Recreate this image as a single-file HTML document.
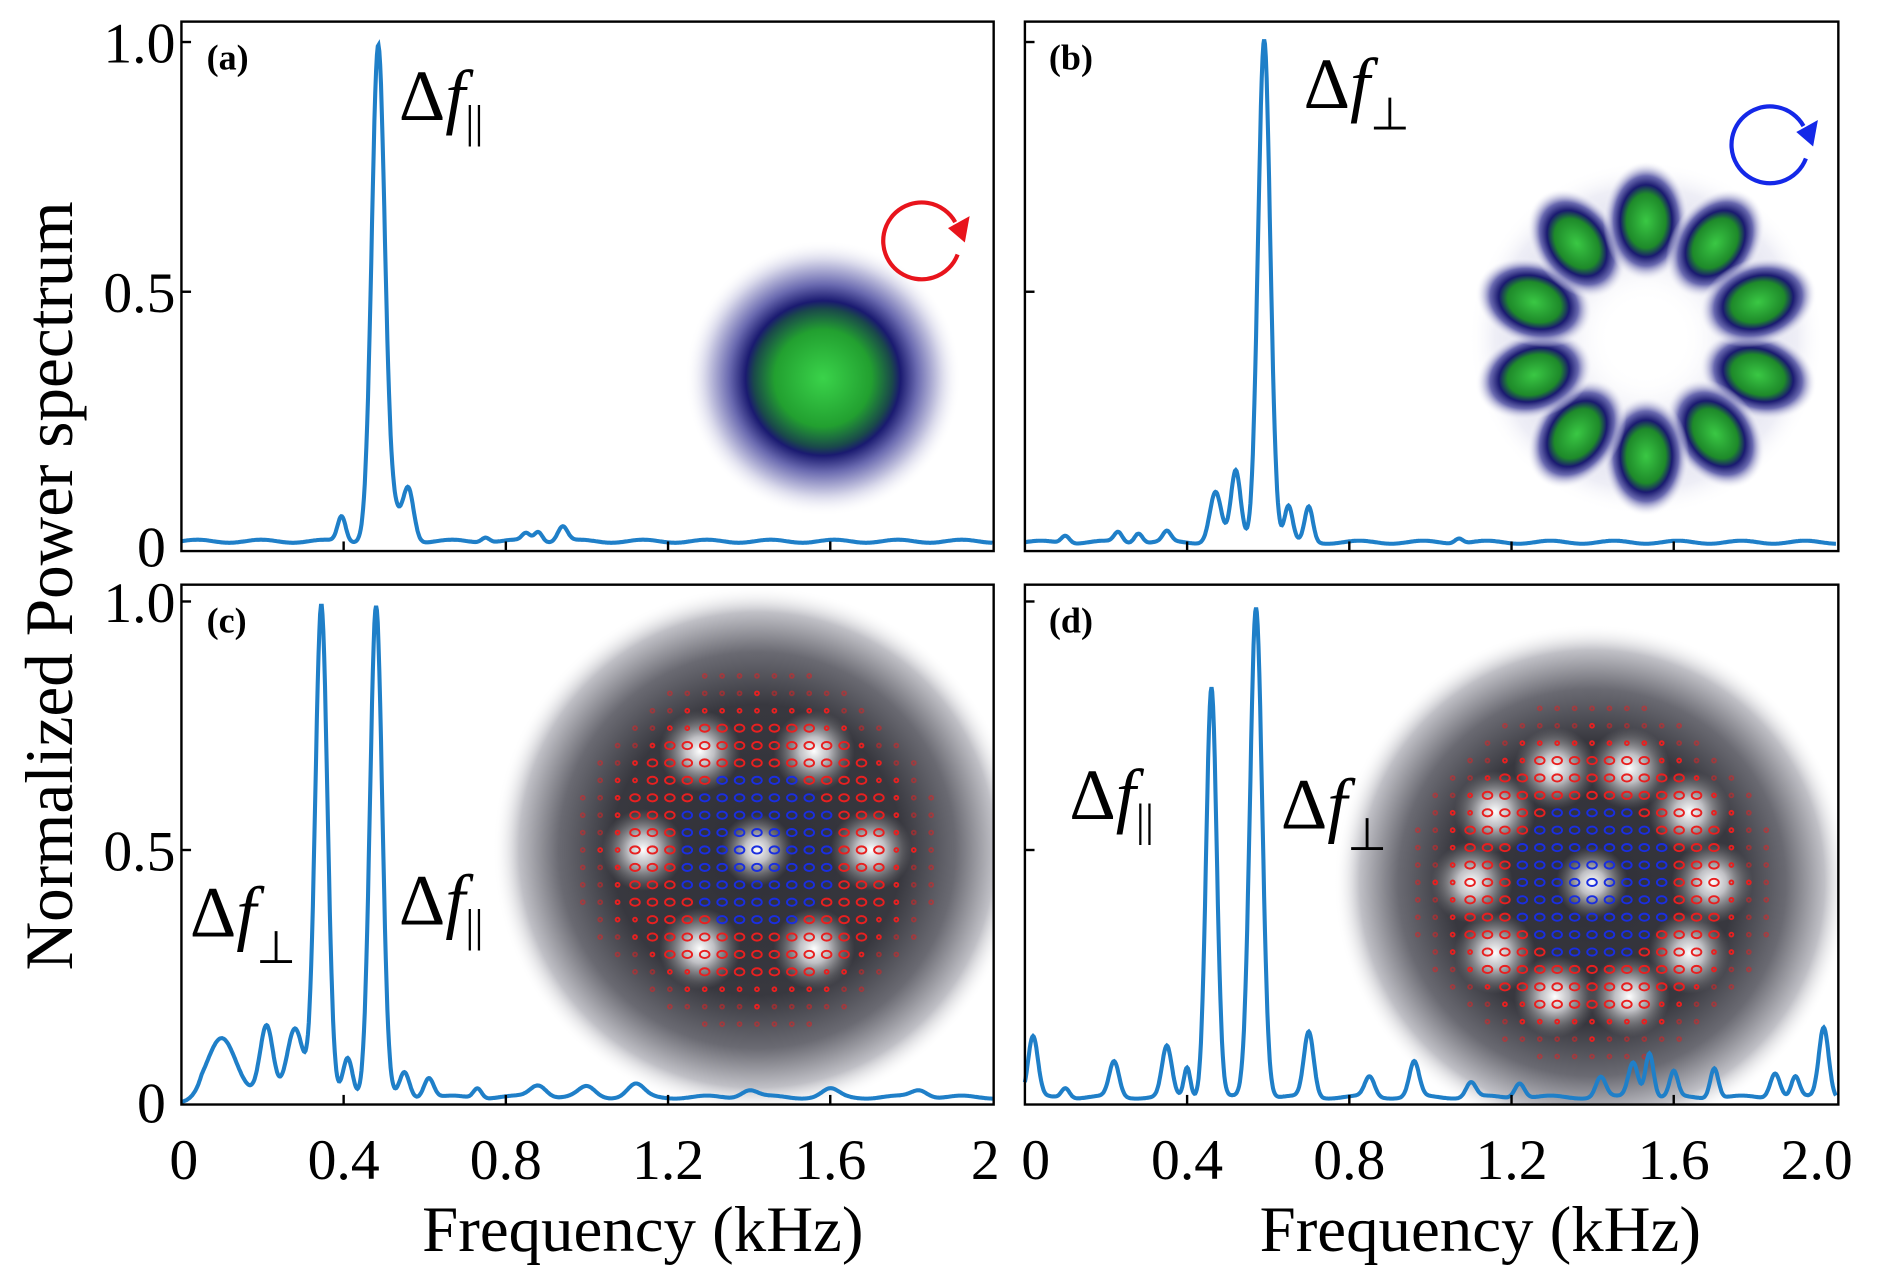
<!DOCTYPE html>
<html><head><meta charset="utf-8"><style>
html,body{margin:0;padding:0;background:#fff;}
svg{display:block;}
text{font-family:"Liberation Serif",serif;fill:#000;}
</style></head><body>
<svg id="s" width="1884" height="1281" viewBox="0 0 1568 1067" preserveAspectRatio="none" xmlns="http://www.w3.org/2000/svg">
<defs>
<radialGradient id="ga" cx="50%" cy="50%" r="50%">
<stop offset="0" stop-color="#3ad34a"/><stop offset="0.35" stop-color="#22a030"/><stop offset="0.5" stop-color="#1a4a4a"/><stop offset="0.56" stop-color="#1a1a70"/><stop offset="0.68" stop-color="#6a6ab0"/><stop offset="0.85" stop-color="#d4d4e8"/><stop offset="1" stop-color="#fff" stop-opacity="0"/>
</radialGradient>
<radialGradient id="lobe" cx="50%" cy="50%" r="50%">
<stop offset="0" stop-color="#3ac844"/><stop offset="0.45" stop-color="#1e8a2a"/><stop offset="0.6" stop-color="#1a1a70"/><stop offset="0.75" stop-color="#6a6ab0"/><stop offset="1" stop-color="#fff" stop-opacity="0"/>
</radialGradient>
<radialGradient id="halo" cx="50%" cy="50%" r="50%">
<stop offset="0.2" stop-color="#fff" stop-opacity="0"/><stop offset="0.55" stop-color="#dcdcec"/><stop offset="0.85" stop-color="#eeeef6"/><stop offset="1" stop-color="#fff" stop-opacity="0"/>
</radialGradient>
<radialGradient id="gray" cx="50%" cy="50%" r="50%">
<stop offset="0" stop-color="#303038"/><stop offset="0.55" stop-color="#38383f"/><stop offset="0.75" stop-color="#6a6a72"/><stop offset="0.9" stop-color="#c0c0c6"/><stop offset="1" stop-color="#fff" stop-opacity="0"/>
</radialGradient>
<radialGradient id="wl" cx="50%" cy="50%" r="50%">
<stop offset="0" stop-color="#fff"/><stop offset="0.35" stop-color="#d8d8dc" stop-opacity="0.85"/><stop offset="1" stop-color="#888" stop-opacity="0"/>
</radialGradient>
<clipPath id="cc"><rect x="151" y="487" width="676" height="433"/></clipPath>
<clipPath id="cd"><rect x="853" y="487" width="677" height="433"/></clipPath>
</defs>
<g id="ins"></g>
<g id="curves" fill="none" stroke="#1f7fc8" stroke-width="3.4"></g>
<g fill="none" stroke="#000" stroke-width="2">
<rect x="151" y="18" width="676" height="441"/>
<rect x="853" y="18" width="677" height="441"/>
<rect x="151" y="487" width="676" height="433"/>
<rect x="853" y="487" width="677" height="433"/>
</g>
<g id="ticks" stroke="#000" stroke-width="2"></g>
<g font-size="48" text-anchor="end">
<text x="146" y="52">1.0</text><text x="146" y="260">0.5</text><text x="138" y="472">0</text>
<text x="146" y="518">1.0</text><text x="146" y="725">0.5</text><text x="138" y="935">0</text>
</g>
<g font-size="48" text-anchor="middle">
<text x="153" y="982">0</text><text x="286" y="982">0.4</text><text x="421" y="982">0.8</text><text x="556" y="982">1.2</text><text x="691" y="982">1.6</text><text x="820" y="982">2</text>
<text x="862" y="982">0</text><text x="988" y="982">0.4</text><text x="1123" y="982">0.8</text><text x="1258" y="982">1.2</text><text x="1393" y="982">1.6</text><text x="1512" y="982">2.0</text>
</g>
<text font-size="54" x="535" y="1042" text-anchor="middle">Frequency (kHz)</text>
<text font-size="54" x="1232" y="1042" text-anchor="middle">Frequency (kHz)</text>
<text font-size="56" transform="translate(60,488) rotate(-90)" text-anchor="middle">Normalized Power spectrum</text>
<g font-size="30" font-weight="bold">
<text x="172" y="58">(a)</text><text x="873" y="58">(b)</text><text x="172" y="527">(c)</text><text x="873" y="527">(d)</text>
</g>
<g font-size="60">
<text x="332" y="100">Δ<tspan font-style="italic">f</tspan><tspan font-size="38" dy="14">||</tspan></text>
<text x="1085" y="90">Δ<tspan font-style="italic">f</tspan><tspan font-size="38" dy="18">⊥</tspan></text>
<text x="158" y="780">Δ<tspan font-style="italic">f</tspan><tspan font-size="38" dy="22">⊥</tspan></text>
<text x="332" y="770">Δ<tspan font-style="italic">f</tspan><tspan font-size="38" dy="14">||</tspan></text>
<text x="890" y="682">Δ<tspan font-style="italic">f</tspan><tspan font-size="38" dy="14">||</tspan></text>
<text x="1066" y="690">Δ<tspan font-style="italic">f</tspan><tspan font-size="38" dy="18">⊥</tspan></text>
</g>
</svg>
<script>
var NS="http://www.w3.org/2000/svg";
function el(p,n,a){var e=document.createElementNS(NS,n);for(var k in a)e.setAttribute(k,a[k]);p.appendChild(e);return e;}
var ins=document.getElementById('ins'),cv=document.getElementById('curves'),tk=document.getElementById('ticks');
el(ins,'ellipse',{cx:685,cy:315,rx:115,ry:115,fill:'url(#ga)'});
el(ins,'circle',{cx:1370,cy:282,r:148,fill:'url(#halo)'});
for(var i=0;i<10;i++){var a=i*36+18;var r=98;var cx=1370+r*Math.cos(a*Math.PI/180),cy=282+r*Math.sin(a*Math.PI/180);
el(ins,'ellipse',{cx:cx,cy:cy,rx:50,ry:36,fill:'url(#lobe)',transform:'rotate('+a+' '+cx+' '+cy+')'});}
function arrow(cx,cy,col){el(ins,'path',{d:'M'+(cx+30)+' '+(cy+12)+' A32 32 0 1 1 '+(cx+28)+' '+(cy-15),fill:'none',stroke:col,'stroke-width':3.5});
el(ins,'polygon',{points:(cx+22)+','+(cy-10)+' '+(cx+40)+','+(cy-20)+' '+(cx+36)+','+(cy+2),fill:col});}
arrow(767,200,'#e8141c');arrow(1473,120,'#1428e8');
function blob(cx,cy,R,lobes,clip,lr){var g=el(ins,'g',{'clip-path':'url(#'+clip+')'});
el(g,'circle',{cx:cx,cy:cy,r:R,fill:'url(#gray)'});
el(g,'circle',{cx:cx,cy:cy,r:30,fill:'url(#wl)'});
lobes.forEach(function(a){var x=cx+lr*Math.cos(a*Math.PI/180),y=cy+lr*Math.sin(a*Math.PI/180);el(g,'circle',{cx:x,cy:y,r:34,fill:'url(#wl)'});});
for(var i=-10;i<=10;i++)for(var j=-10;j<=10;j++){var x=cx+i*14.5,y=cy+j*14.5,d=Math.hypot(i,j);if(d>10.5)continue;
var blue=Math.abs(i)<=4&&Math.abs(j)<=4&&d<5;
el(g,'ellipse',{cx:x,cy:y,rx:d<8?4:1.6,ry:d<8?3:1.6,fill:'none',stroke:blue?'#1a2ee0':'#e82020','stroke-width':1.6,opacity:d>9?0.5:1});}}
blob(630,708,220,[-120,-60,0,60,120,180],'cc',95);
blob(1325,735,215,[0,36,72,108,144,180,216,252,288,324],'cd',100);
[[151,459],[853,459],[151,920],[853,920]].forEach(function(p){var x0=p[0];for(var k=1;k<5;k++){var x=x0+k*135;el(tk,'line',{x1:x,y1:p[1],x2:x,y2:p[1]-8});}});
[[853,35],[853,243],[853,501],[853,708],[151,35],[151,243],[151,501],[151,708]].forEach(function(p){el(tk,'line',{x1:p[0],y1:p[1],x2:p[0]+8,y2:p[1]});});
function curve(x0,y0,h,peaks,base,start0){var d='';for(var i=0;i<=1000;i++){var f=i/500;var v=base;
peaks.forEach(function(p){v+=p[1]*Math.exp(-Math.pow((f-p[0])/p[2],2)/2);});
v+=0.003*Math.sin(f*40);
if(start0&&f<0.05)v*=f/0.05;
var x=x0+f*337.5,y=y0-v*h;d+=(i?'L':'M')+x.toFixed(1)+' '+y.toFixed(1);}
el(cv,'path',{d:d});}
curve(151,455,420,[[0.395,0.05,0.01],[0.485,0.97,0.016],[0.56,0.1,0.013],[0.52,0.06,0.02],[0.75,0.01,0.01],[0.85,0.015,0.01],[0.88,0.02,0.01],[0.94,0.03,0.012]],0.01,false);
curve(853,455,420,[[0.1,0.015,0.01],[0.23,0.02,0.01],[0.28,0.02,0.01],[0.35,0.02,0.01],[0.47,0.1,0.014],[0.52,0.14,0.012],[0.59,1.0,0.015],[0.65,0.07,0.01],[0.7,0.07,0.01],[1.07,0.01,0.01]],0.008,false);
curve(151,918,417,[[0.1,0.12,0.035],[0.21,0.14,0.016],[0.28,0.14,0.02],[0.345,0.98,0.015],[0.41,0.08,0.012],[0.48,0.98,0.015],[0.55,0.05,0.012],[0.61,0.04,0.012],[0.73,0.02,0.01],[0.88,0.025,0.02],[1.0,0.02,0.02],[1.12,0.025,0.02],[1.4,0.015,0.02],[1.6,0.015,0.02],[1.82,0.015,0.02]],0.01,true);
curve(853,918,417,[[0.02,0.12,0.012],[0.1,0.02,0.01],[0.22,0.07,0.012],[0.35,0.1,0.012],[0.4,0.06,0.008],[0.46,0.82,0.013],[0.57,0.98,0.015],[0.7,0.13,0.012],[0.85,0.04,0.012],[0.96,0.07,0.012],[1.1,0.03,0.012],[1.22,0.03,0.012],[1.42,0.04,0.012],[1.5,0.07,0.012],[1.54,0.09,0.01],[1.6,0.05,0.01],[1.7,0.06,0.01],[1.85,0.05,0.012],[1.9,0.04,0.01],[1.97,0.14,0.012]],0.01,false);
</script>
</body></html>
